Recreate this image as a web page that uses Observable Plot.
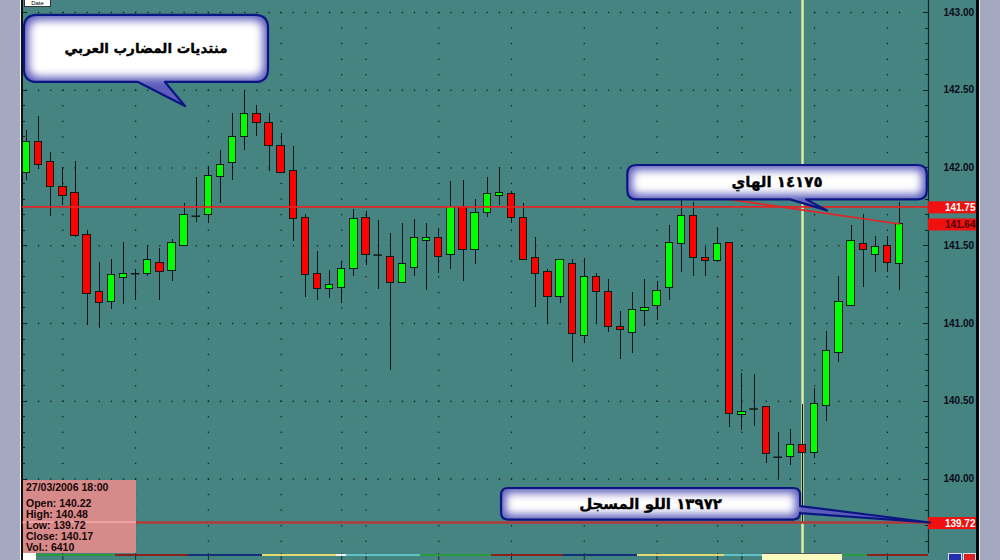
<!DOCTYPE html>
<html>
<head>
<meta charset="utf-8">
<script src="https://cdn.jsdelivr.net/npm/d3@7"></script>
<script src="https://cdn.jsdelivr.net/npm/@observablehq/plot@0.6"></script>
<style>
html,body{margin:0;padding:0;background:#a4a8c0;}
#wrap{position:relative;width:1000px;height:560px;overflow:hidden;background:#468482;font-family:"Liberation Sans",Arial,sans-serif;}
#wrap svg{position:absolute;left:0;top:0;}
.abs{position:absolute;}
</style>
</head>
<body>
<div id="wrap"></div>
<script>
// ---------------- data ----------------
const opens  = [141.97,142.17,142.04,141.88,141.84,141.57,141.20,141.14,141.29,141.32,
                141.32,141.39,141.34,141.50,141.69,141.70,141.94,142.03,142.20,142.35,
                142.29,142.14,141.98,141.68,141.32,141.22,141.23,141.35,141.68,141.44,
                141.43,141.26,141.36,141.53,141.55,141.44,141.75,141.47,141.71,141.82,
                141.83,141.68,141.42,141.33,141.17,141.38,140.92,141.30,141.20,140.98,
                140.94,141.08,141.11,141.23,141.51,141.69,141.42,141.40,141.52,140.41,
                140.45,140.46,140.14,140.14,140.22,140.17,140.47,140.81,141.11,141.51,
                141.44,141.50,141.38];
const highs  = [142.24,142.33,142.10,142.00,142.04,141.60,141.39,141.41,141.52,141.35,
                141.50,141.48,141.54,141.77,141.94,142.01,142.11,142.35,142.49,142.40,
                142.35,142.22,142.14,141.70,141.46,141.34,141.40,141.73,141.72,141.66,
                141.58,141.64,141.67,141.64,141.61,141.91,141.92,141.80,141.94,142.00,
                141.85,141.77,141.55,141.35,141.41,141.41,141.42,141.32,141.28,141.08,
                141.20,141.28,141.27,141.63,141.80,141.78,141.49,141.62,141.52,140.68,
                140.67,140.46,140.30,140.32,140.48,140.58,140.95,141.30,141.63,141.70,
                141.56,141.56,141.78];
const lows   = [141.92,141.99,141.69,141.76,141.55,140.99,140.97,141.09,141.12,141.15,
                141.30,141.15,141.27,141.50,141.65,141.64,141.77,141.92,142.11,142.20,
                141.98,141.97,141.53,141.17,141.15,141.16,141.13,141.30,141.37,141.22,
                140.70,141.26,141.30,141.21,141.32,141.35,141.27,141.38,141.68,141.76,
                141.64,141.41,141.10,141.00,141.13,140.75,140.87,141.00,140.94,140.77,
                140.81,140.98,141.02,141.15,141.33,141.30,141.30,141.40,140.33,140.31,
                140.34,140.10,140.00,140.09,139.72,140.13,140.37,140.75,141.11,141.23,
                141.33,141.33,141.21];
const closes = [142.17,142.02,141.88,141.82,141.56,141.19,141.13,141.31,141.32,141.32,
                141.41,141.33,141.52,141.70,141.69,141.95,142.02,142.20,142.35,142.29,
                142.14,141.97,141.67,141.31,141.22,141.25,141.35,141.67,141.44,141.44,
                141.26,141.38,141.55,141.55,141.43,141.75,141.47,141.71,141.83,141.84,
                141.68,141.41,141.32,141.17,141.41,140.93,141.30,141.20,140.98,140.96,
                141.09,141.10,141.21,141.52,141.69,141.42,141.40,141.51,140.42,140.43,
                140.45,140.16,140.14,140.22,140.17,140.48,140.82,141.14,141.53,141.47,
                141.49,141.39,141.64];
const timeTicks  = [3, 9, 15, 21, 26, 28, 34, 40, 46, 52, 57, 59, 65, 71];
const priceTicks = [140.00, 140.50, 141.00, 141.50, 142.00, 142.50, 143.00];
const levelHigh = 141.75;
const levelLow  = 139.72;
const cursorIndex = 64;
const cursorDate = "27/03/2006 18:00";
const cursorVolume = 6410;
const trendStart = {i: 56, p: 141.82};
const brandText = "منتديات المضارب العربي";
const highText  = "١٤١٧٥ الهاي";
const lowText   = "١٣٩٧٢ اللو المسجل";

// ---------------- derived tables ----------------
const candles = opens.map((o, i) => ({i, open: o, high: highs[i], low: lows[i], close: closes[i]}));
const bodies = candles.filter(d => d.open !== d.close);
const dojis  = candles.filter(d => d.open === d.close);
const lastClose = closes[closes.length - 1];
const trend = [trendStart, {i: candles.length - 1, p: lastClose}];
const minorPrices = d3.range(1396, 1431).map(v => v / 10);
const gridA = timeTicks.flatMap(i => minorPrices.map(p => ({i, p})));
const gridB = priceTicks.flatMap(p => candles.map(d => ({i: d.i, p})));
const priceTags = [
  {p: levelHigh, color: "#ffffff"},
  {p: lastClose, color: "#4a0000"},
  {p: levelLow,  color: "#ffffff"}
];

// ---------------- layout ----------------
const W = 1000, H = 560, mL = 22, mR = 72, mT = 0, mB = 7;
const xDom = [-0.33, 74.39];
const yDom = [139.521, 143.077];
const ppi = (W - mL - mR) / (xDom[1] - xDom[0]);   // px per candle
const ppp = (H - mT - mB) / (yDom[1] - yDom[0]);   // px per price unit
const tagX1 = xDom[1], tagX2 = xDom[1] + 48 / ppi, tagTextX = xDom[1] + 47 / ppi;

const chart = Plot.plot({
  width: W, height: H,
  marginLeft: mL, marginRight: mR, marginTop: mT, marginBottom: mB,
  x: {domain: xDom, axis: null},
  y: {domain: yDom, axis: null},
  style: {background: "transparent", fontFamily: "Liberation Sans, Arial, sans-serif", fontSize: "10px", overflow: "visible"},
  marks: [
    // dotted grid
    Plot.dot(gridA, {x: "i", y: "p", r: 0.75, fill: "#0e1c1c", stroke: null}),
    Plot.dot(gridB, {x: "i", y: "p", r: 0.75, fill: "#0e1c1c", stroke: null}),
    // edge ticks (left and right of the frame)
    Plot.ruleY(minorPrices, {y: d => d, x1: xDom[0], x2: xDom[0] + 3 / ppi, stroke: "#102424", shapeRendering: "crispEdges"}),
    Plot.ruleY(priceTicks, {y: d => d, x1: xDom[0], x2: xDom[0] + 5 / ppi, stroke: "#102424", shapeRendering: "crispEdges"}),
    Plot.ruleY(minorPrices, {y: d => d, x1: xDom[1] - 3 / ppi, x2: xDom[1], stroke: "#102424", shapeRendering: "crispEdges"}),
    Plot.ruleY(priceTicks, {y: d => d, x1: xDom[1] - 5 / ppi, x2: xDom[1], stroke: "#102424", shapeRendering: "crispEdges"}),
    // bottom time separators
    Plot.ruleX(timeTicks, {x: d => d, y1: yDom[0], y2: yDom[0] - 8 / ppp, stroke: "#1a2a2a"}),
    // cursor
    Plot.ruleX([cursorIndex], {x: d => d, stroke: "#e4eea4", strokeWidth: 2.4}),
    // candles
    Plot.ruleX(candles, {x: "i", y1: "low", y2: "high", stroke: "#0a1616", shapeRendering: "crispEdges"}),
    Plot.rect(bodies, {x1: d => d.i - 0.3, x2: d => d.i + 0.3, y1: "open", y2: "close",
      fill: d => d.close > d.open ? "#00ff00" : "#ff0000", stroke: "#0c1a10", shapeRendering: "crispEdges"}),
    Plot.ruleY(dojis, {y: "open", x1: d => d.i - 0.35, x2: d => d.i + 0.35, stroke: "#0c1a10", strokeWidth: 1.5}),
    // horizontal levels
    Plot.ruleY([levelHigh], {y: d => d, stroke: "#e42424", strokeWidth: 1.6}),
    Plot.ruleY([levelLow], {y: d => d, stroke: "#b23a3a", strokeWidth: 2.4}),
    // trend line
    Plot.line(trend, {x: "i", y: "p", stroke: "#e42424", strokeWidth: 1.6}),
    // right frame line
    Plot.ruleX([xDom[1]], {x: d => d, stroke: "#122828", strokeWidth: 1.2}),
    // axis
    Plot.axisY(priceTicks, {anchor: "right", tickSize: 0, tickPadding: 15, label: null,
      tickFormat: d => d.toFixed(2), fontWeight: "bold", fontSize: 10, fill: "#0b0b16"}),
    // price tags
    Plot.rect(priceTags, {x1: () => tagX1, x2: () => tagX2, y1: d => d.p + 5 / ppp, y2: d => d.p - 7 / ppp, fill: "#f01010"}),
    Plot.text(priceTags, {x: () => tagTextX, y: "p", dy: 1, text: d => d.p.toFixed(2), textAnchor: "end",
      fill: d => d.color, fontWeight: "bold", fontSize: 10})
  ]
});

const wrap = document.getElementById("wrap");
const xs = chart.scale("x"), ys = chart.scale("y");
const X = v => xs.apply(v), Y = v => ys.apply(v);

function addDiv(style, html, parent) {
  const d = document.createElement("div");
  d.className = "abs";
  Object.assign(d.style, style);
  if (html) d.textContent = html;
  (parent || wrap).appendChild(d);
  return d;
}

// side panels (behind)
addDiv({left: "0px", top: "0px", width: "20px", height: "560px", background: "#a4a8c0"});
addDiv({left: "20px", top: "0px", width: "1px", height: "560px", background: "#f4f4f4"});
addDiv({left: "21px", top: "0px", width: "2px", height: "560px", background: "#101010"});
wrap.appendChild(chart);

// ---------------- callouts ----------------
const svg = d3.select(chart);
const defs = svg.append("defs");
defs.append("filter").attr("id", "soft").attr("x", "-50%").attr("y", "-50%").attr("width", "200%").attr("height", "200%")
  .append("feGaussianBlur").attr("stdDeviation", 4.5);

function calloutPath(b, ptr, r) {
  const {x1, y1, x2, y2} = b;
  let d = `M${x1 + r},${y1} H${x2 - r} Q${x2},${y1} ${x2},${y1 + r}`;
  if (ptr.side === "right") d += ` V${ptr.a} L${ptr.tx},${ptr.ty} L${x2},${ptr.b}`;
  d += ` V${y2 - r} Q${x2},${y2} ${x2 - r},${y2}`;
  if (ptr.side === "bottom") d += ` H${ptr.b} L${ptr.tx},${ptr.ty} L${ptr.a},${y2}`;
  d += ` H${x1 + r} Q${x1},${y2} ${x1},${y2 - r} V${y1 + r} Q${x1},${y1} ${x1 + r},${y1} Z`;
  return d;
}

const callouts = [
  {id: "c1", text: brandText, box: {i1: -0.165, i2: 19.96, p1: 142.981, p2: 142.550}, r: 13, fs: 13.5,
   ptr: {side: "bottom", a: 9.24, b: 11.46, ti: 13.11, tp: 142.395}},
  {id: "c2", text: highText, box: {i1: 49.59, i2: 74.29, p1: 142.016, p2: 141.795}, r: 9, fs: 15,
   ptr: {side: "bottom", a: 63.0, b: 64.33, ti: 66.06, tp: 141.724}},
  {id: "c3", text: lowText, box: {i1: 39.18, i2: 63.84, p1: 139.939, p2: 139.736}, r: 7, fs: 15,
   ptr: {side: "right", a: 139.823, b: 139.778, ti: 74.56, tp: 139.717}}
];

callouts.forEach(c => {
  const b = {x1: X(c.box.i1), x2: X(c.box.i2), y1: Y(c.box.p1), y2: Y(c.box.p2)};
  const p = c.ptr.side === "bottom"
    ? {side: "bottom", a: X(c.ptr.a), b: X(c.ptr.b), tx: X(c.ptr.ti), ty: Y(c.ptr.tp)}
    : {side: "right", a: Y(c.ptr.a), b: Y(c.ptr.b), tx: X(c.ptr.ti), ty: Y(c.ptr.tp)};
  const d = calloutPath(b, p, c.r);
  const g = svg.append("g");
  defs.append("clipPath").attr("id", c.id + "clip").append("path").attr("d", d);
  g.append("path").attr("d", d).attr("fill", "#5c5cbc");
  const inset = 5;
  g.append("g").attr("clip-path", `url(#${c.id}clip)`)
    .append("rect")
    .attr("x", b.x1 + inset).attr("y", b.y1 + inset)
    .attr("width", b.x2 - b.x1 - 2 * inset).attr("height", b.y2 - b.y1 - 2 * inset)
    .attr("rx", Math.max(2, c.r - 4))
    .attr("fill", "#ffffff").attr("filter", "url(#soft)");
  g.append("path").attr("d", d).attr("fill", "none").attr("stroke", "#0c1682").attr("stroke-width", 2.2)
    .attr("stroke-linejoin", "round");
  g.append("text")
    .attr("x", (b.x1 + b.x2) / 2).attr("y", (b.y1 + b.y2) / 2)
    .attr("text-anchor", "middle").attr("dominant-baseline", "central")
    .attr("font-family", "DejaVu Sans, sans-serif").attr("font-weight", "bold")
    .attr("font-size", c.fs).attr("fill", "#000")
    .attr("stroke", "#000").attr("stroke-width", 0.35)
    .text(c.text);
});

// ---------------- overlays ----------------
// right panel
addDiv({left: "976px", top: "0px", width: "3px", height: "560px", background: "#080808"});
addDiv({left: "979px", top: "0px", width: "1px", height: "560px", background: "#f0f0f0"});
addDiv({left: "980px", top: "0px", width: "20px", height: "560px", background: "#a4a8c0"});

// "Date" header stub
addDiv({left: "24px", top: "-1px", width: "25px", height: "6px", background: "#fff", border: "1px solid #333",
  font: "6px 'Liberation Sans'", color: "#000", lineHeight: "6px", textAlign: "center", overflow: "hidden"}, "Date");

// info box for cursor candle
const cc = candles[cursorIndex];
const info = addDiv({left: "23px", top: "480px", width: "113px", height: "73px", background: "#d68a8a",
  fontFamily: "'Liberation Sans', Arial, sans-serif", fontWeight: "bold", fontSize: "10.5px", color: "#160606"});
addDiv({left: "0px", top: (Y(levelLow) - 480 - 1) + "px", width: "113px", height: "2px", background: "#eea2a2"}, null, info);
const lines = [
  [cursorDate, 2],
  ["Open: " + cc.open.toFixed(2), 18],
  ["High: " + cc.high.toFixed(2), 29],
  ["Low: " + cc.low.toFixed(2), 40],
  ["Close: " + cc.close.toFixed(2), 51],
  ["Vol.: " + cursorVolume, 62]
];
lines.forEach(([t, top]) => {
  addDiv({left: "3px", top: top + "px", whiteSpace: "nowrap", lineHeight: "10px"}, t, info);
});

// bottom session band
const bandSegs = [[36,115,"#2a9a3a"],[115,188,"#8a2020"],[188,262,"#10307a"],[262,336,"#e0d870"],[336,346,"#f0f0f0"],
  [346,420,"#60c0c8"],[420,491,"#2a9a3a"],[491,563,"#8a2020"],[563,637,"#10307a"],[637,724,"#e0d870"],
  [724,762,"#60c0c8"],[843,867,"#2a9a3a"],[867,928,"#8a2020"]];
bandSegs.forEach(([a, b, col]) => addDiv({left: a + "px", top: "554px", width: (b - a) + "px", height: "2px", background: col}));
addDiv({left: "23px", top: "553px", width: "13px", height: "7px", background: "#fff"});
addDiv({left: (X(cursorIndex) - 40) + "px", top: "553px", width: "80px", height: "7px", background: "#fbfbc0", borderTop: "1px solid #556"});
addDiv({left: "948px", top: "553px", width: "12px", height: "7px", background: "#2030b0", border: "1px solid #dde"});
addDiv({left: "963px", top: "553px", width: "11px", height: "7px", background: "#e02020", border: "1px solid #dde"});
</script>
</body>
</html>
